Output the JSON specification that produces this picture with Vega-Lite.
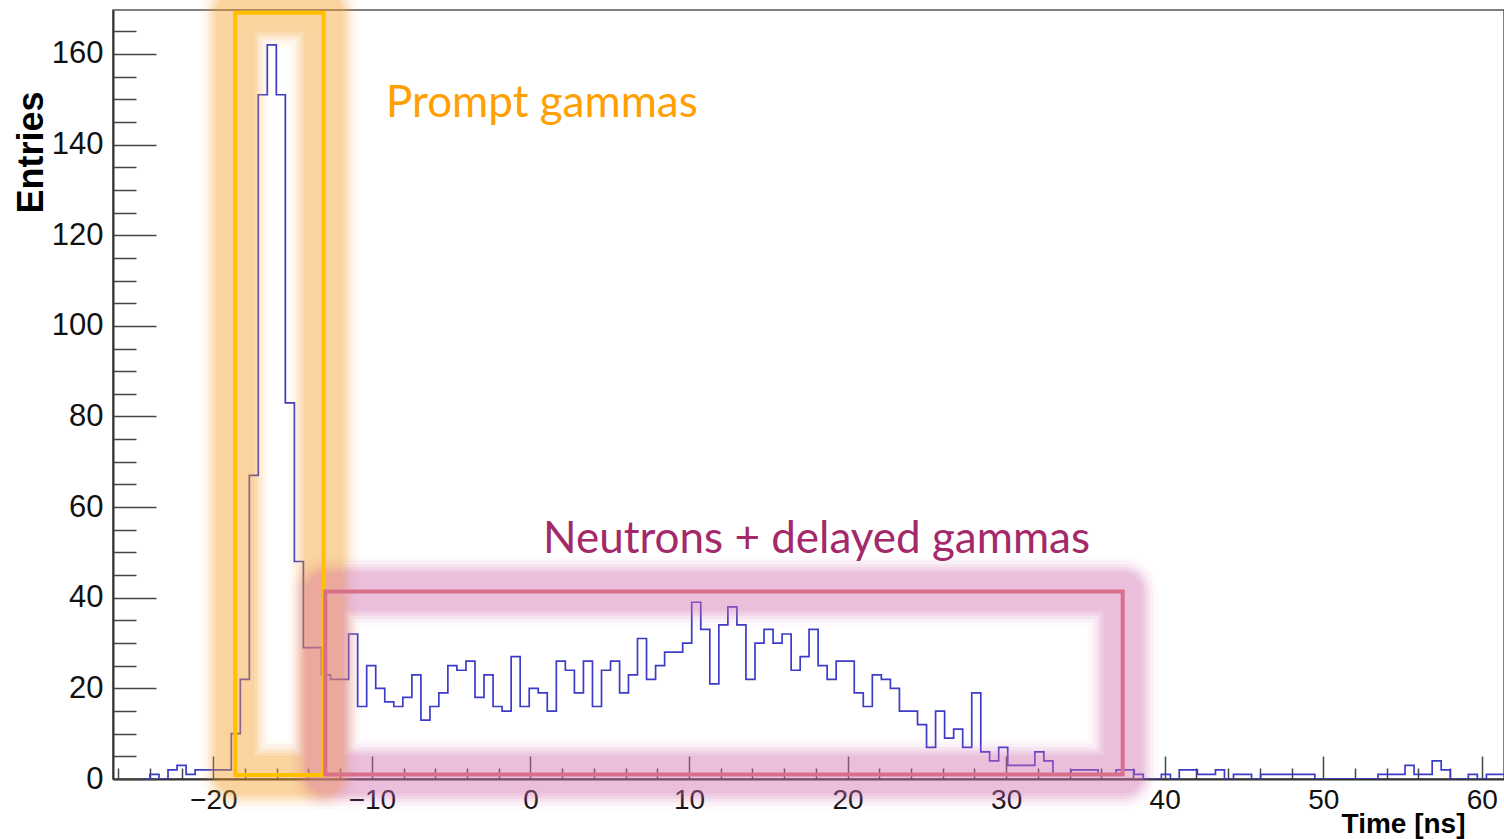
{
  "$schema": "https://vega.github.io/schema/vega-lite/v6.json",
  "autosize": "none",
  "width": 1391,
  "height": 769,
  "padding": {"left": 113, "top": 10, "right": 0, "bottom": 60},
  "background": "white",
  "config": {
    "view": {"stroke": "#555555", "strokeWidth": 1.5},
    "axis": {"grid": false, "labelFont": "Liberation Sans", "titleFont": "Liberation Sans"}
  },
  "datasets": {
    "hist": [
      {"t": -24.57, "n": 0}, {"t": -24.00, "n": 1}, {"t": -23.43, "n": 0}, {"t": -22.86, "n": 2},
      {"t": -22.29, "n": 3}, {"t": -21.72, "n": 1}, {"t": -21.15, "n": 2}, {"t": -20.58, "n": 2},
      {"t": -20.01, "n": 2}, {"t": -19.44, "n": 2}, {"t": -18.87, "n": 10}, {"t": -18.30, "n": 22},
      {"t": -17.73, "n": 67}, {"t": -17.17, "n": 151}, {"t": -16.60, "n": 162}, {"t": -16.03, "n": 151},
      {"t": -15.46, "n": 83}, {"t": -14.89, "n": 48}, {"t": -14.32, "n": 29}, {"t": -13.75, "n": 29},
      {"t": -13.18, "n": 23}, {"t": -12.61, "n": 22}, {"t": -12.04, "n": 22}, {"t": -11.47, "n": 32},
      {"t": -10.90, "n": 16}, {"t": -10.33, "n": 25}, {"t": -9.76, "n": 20}, {"t": -9.19, "n": 17},
      {"t": -8.62, "n": 16}, {"t": -8.05, "n": 18}, {"t": -7.48, "n": 23}, {"t": -6.91, "n": 13},
      {"t": -6.34, "n": 16}, {"t": -5.78, "n": 19}, {"t": -5.21, "n": 25}, {"t": -4.64, "n": 24},
      {"t": -4.07, "n": 26}, {"t": -3.50, "n": 18}, {"t": -2.93, "n": 23}, {"t": -2.36, "n": 16},
      {"t": -1.79, "n": 15}, {"t": -1.22, "n": 27}, {"t": -0.65, "n": 16}, {"t": -0.08, "n": 20},
      {"t": 0.49, "n": 19}, {"t": 1.06, "n": 15}, {"t": 1.63, "n": 26}, {"t": 2.20, "n": 24},
      {"t": 2.77, "n": 19}, {"t": 3.34, "n": 26}, {"t": 3.91, "n": 16}, {"t": 4.48, "n": 24},
      {"t": 5.05, "n": 26}, {"t": 5.62, "n": 19}, {"t": 6.18, "n": 23}, {"t": 6.75, "n": 31},
      {"t": 7.32, "n": 22}, {"t": 7.89, "n": 25}, {"t": 8.46, "n": 28}, {"t": 9.03, "n": 28},
      {"t": 9.60, "n": 30}, {"t": 10.17, "n": 39}, {"t": 10.74, "n": 33}, {"t": 11.31, "n": 21},
      {"t": 11.88, "n": 34}, {"t": 12.45, "n": 38}, {"t": 13.02, "n": 34}, {"t": 13.59, "n": 22},
      {"t": 14.16, "n": 30}, {"t": 14.73, "n": 33}, {"t": 15.30, "n": 30}, {"t": 15.87, "n": 32},
      {"t": 16.44, "n": 24}, {"t": 17.01, "n": 27}, {"t": 17.57, "n": 33}, {"t": 18.14, "n": 25},
      {"t": 18.71, "n": 22}, {"t": 19.28, "n": 26}, {"t": 19.85, "n": 26}, {"t": 20.42, "n": 19},
      {"t": 20.99, "n": 16}, {"t": 21.56, "n": 23}, {"t": 22.13, "n": 22}, {"t": 22.70, "n": 20},
      {"t": 23.27, "n": 15}, {"t": 23.84, "n": 15}, {"t": 24.41, "n": 12}, {"t": 24.98, "n": 7},
      {"t": 25.55, "n": 15}, {"t": 26.12, "n": 9}, {"t": 26.69, "n": 11}, {"t": 27.26, "n": 7},
      {"t": 27.83, "n": 19}, {"t": 28.40, "n": 6}, {"t": 28.96, "n": 4}, {"t": 29.53, "n": 7},
      {"t": 30.10, "n": 3}, {"t": 30.67, "n": 3}, {"t": 31.24, "n": 3}, {"t": 31.81, "n": 6},
      {"t": 32.38, "n": 4}, {"t": 32.95, "n": 1}, {"t": 33.52, "n": 1}, {"t": 34.09, "n": 2},
      {"t": 34.66, "n": 2}, {"t": 35.23, "n": 2}, {"t": 35.80, "n": 1}, {"t": 36.37, "n": 1},
      {"t": 36.94, "n": 2}, {"t": 37.51, "n": 2}, {"t": 38.08, "n": 1}, {"t": 38.65, "n": 0},
      {"t": 39.22, "n": 0}, {"t": 39.79, "n": 1}, {"t": 40.36, "n": 0}, {"t": 40.92, "n": 2},
      {"t": 41.49, "n": 2}, {"t": 42.06, "n": 1}, {"t": 42.63, "n": 1}, {"t": 43.20, "n": 2},
      {"t": 43.77, "n": 0}, {"t": 44.34, "n": 1}, {"t": 44.91, "n": 1}, {"t": 45.48, "n": 0},
      {"t": 46.05, "n": 1}, {"t": 46.62, "n": 1}, {"t": 47.19, "n": 1}, {"t": 47.76, "n": 1},
      {"t": 48.33, "n": 1}, {"t": 48.90, "n": 1}, {"t": 49.47, "n": 0}, {"t": 50.04, "n": 0},
      {"t": 50.61, "n": 0}, {"t": 51.18, "n": 0}, {"t": 51.74, "n": 0}, {"t": 52.31, "n": 0},
      {"t": 52.88, "n": 0}, {"t": 53.45, "n": 1}, {"t": 54.02, "n": 1}, {"t": 54.59, "n": 1},
      {"t": 55.16, "n": 3}, {"t": 55.73, "n": 1}, {"t": 56.30, "n": 1}, {"t": 56.87, "n": 4},
      {"t": 57.44, "n": 2}, {"t": 58.01, "n": 0}, {"t": 58.58, "n": 0}, {"t": 59.15, "n": 1},
      {"t": 59.72, "n": 0}, {"t": 60.29, "n": 1}, {"t": 60.86, "n": 1}, {"t": 61.43, "n": 1}
    ],
    "boxes": [
      {"region": "prompt", "t1": -18.62, "t2": -13.05, "n1": 0.9, "n2": 169.1},
      {"region": "delayed", "t1": -12.94, "t2": 37.35, "n1": 1.0, "n2": 41.4}
    ],
    "labels": [
      {"region": "prompt", "t": -9.11, "n": 146.0, "text": "Prompt gammas"},
      {"region": "delayed", "t": 0.79, "n": 49.9, "text": "Neutrons + delayed gammas"}
    ]
  },
  "resolve": {"axis": {"x": "independent", "y": "independent"}},
  "layer": [
    {
      "data": {"name": "hist"},
      "mark": {"type": "line", "opacity": 0},
      "encoding": {
        "x": {
          "field": "t", "type": "quantitative",
          "scale": {"domain": [-26.33, 61.4], "nice": false, "zero": false},
          "axis": {
            "orient": "bottom", "title": null, "labels": false, "domain": false,
            "values": [-26, -24, -22, -18, -16, -14, -12, -8, -6, -4, -2, 2, 4, 6, 8, 12, 14, 16, 18, 22, 24, 26, 28, 32, 34, 36, 38, 42, 44, 46, 48, 52, 54, 56, 58],
            "tickSize": -11, "tickWidth": 1.5, "tickColor": "#444444"
          }
        },
        "y": {
          "field": "n", "type": "quantitative",
          "scale": {"domain": [0, 169.7], "nice": false, "zero": false},
          "axis": {
            "orient": "left", "title": null, "labels": false, "domain": false,
            "values": [5, 10, 15, 25, 30, 35, 45, 50, 55, 65, 70, 75, 85, 90, 95, 105, 110, 115, 125, 130, 135, 145, 150, 155, 165],
            "tickSize": -23, "tickWidth": 1.5, "tickColor": "#444444"
          }
        }
      }
    },
    {
      "layer": [
        {
          "data": {"name": "hist"},
          "mark": {"type": "line", "interpolate": "step-after", "color": "#3C3CC8", "strokeWidth": 1.7, "clip": true},
          "encoding": {
            "x": {
              "field": "t", "type": "quantitative",
              "scale": {"domain": [-26.33, 61.4], "nice": false, "zero": false},
              "axis": {
                "orient": "bottom", "values": [-20, -10, 0, 10, 20, 30, 40, 50, 60],
                "tickSize": -23, "tickWidth": 1.5, "tickColor": "#444444",
                "domainColor": "#333333", "domainWidth": 2,
                "labelFontSize": 28, "labelColor": "#111111", "labelPadding": 30,
                "labelFlush": false, "labelOverlap": false,
                "title": "Time [ns]", "titleFontSize": 28, "titleFontWeight": "bold", "titleColor": "#000000",
                "titleX": 1352, "titleY": 53, "titleAlign": "right", "titleBaseline": "alphabetic", "titleAnchor": null
              }
            },
            "y": {
              "field": "n", "type": "quantitative",
              "scale": {"domain": [0, 169.7], "nice": false, "zero": false},
              "axis": {
                "orient": "left", "values": [0, 20, 40, 60, 80, 100, 120, 140, 160],
                "tickSize": -43, "tickWidth": 1.5, "tickColor": "#444444",
                "domainColor": "#333333", "domainWidth": 2,
                "labelFontSize": 31, "labelColor": "#111111", "labelPadding": 53,
                "labelFlush": false, "labelOverlap": false,
                "title": "Entries", "titleFontSize": 36, "titleFontWeight": "bold", "titleColor": "#000000",
                "titleAngle": 270, "titleX": -71, "titleY": 203, "titleAlign": "left", "titleBaseline": "alphabetic", "titleAnchor": null
              }
            }
          }
        },
        {
          "data": {"name": "boxes"},
          "mark": {"type": "rect", "fill": null, "strokeWidth": 70, "strokeOpacity": 0.04, "strokeJoin": "round"},
          "encoding": {
            "x": {"field": "t1", "type": "quantitative", "scale": {"domain": [-26.33, 61.4], "nice": false, "zero": false}},
            "x2": {"field": "t2"},
            "y": {"field": "n1", "type": "quantitative", "scale": {"domain": [0, 169.7], "nice": false, "zero": false}},
            "y2": {"field": "n2"},
            "stroke": {"field": "region", "type": "nominal", "scale": {"domain": ["prompt", "delayed"], "range": ["#F5A028", "#D470B6"]}, "legend": null}
          }
        },
        {
          "data": {"name": "boxes"},
          "mark": {"type": "rect", "fill": null, "strokeWidth": 62, "strokeOpacity": 0.0625, "strokeJoin": "round"},
          "encoding": {
            "x": {"field": "t1", "type": "quantitative", "scale": {"domain": [-26.33, 61.4], "nice": false, "zero": false}},
            "x2": {"field": "t2"},
            "y": {"field": "n1", "type": "quantitative", "scale": {"domain": [0, 169.7], "nice": false, "zero": false}},
            "y2": {"field": "n2"},
            "stroke": {"field": "region", "type": "nominal", "scale": {"domain": ["prompt", "delayed"], "range": ["#F5A028", "#D470B6"]}, "legend": null}
          }
        },
        {
          "data": {"name": "boxes"},
          "mark": {"type": "rect", "fill": null, "strokeWidth": 55, "strokeOpacity": 0.09, "strokeJoin": "round"},
          "encoding": {
            "x": {"field": "t1", "type": "quantitative", "scale": {"domain": [-26.33, 61.4], "nice": false, "zero": false}},
            "x2": {"field": "t2"},
            "y": {"field": "n1", "type": "quantitative", "scale": {"domain": [0, 169.7], "nice": false, "zero": false}},
            "y2": {"field": "n2"},
            "stroke": {"field": "region", "type": "nominal", "scale": {"domain": ["prompt", "delayed"], "range": ["#F5A028", "#D470B6"]}, "legend": null}
          }
        },
        {
          "data": {"name": "boxes"},
          "mark": {"type": "rect", "fill": null, "strokeWidth": 49, "strokeOpacity": 0.11, "strokeJoin": "round"},
          "encoding": {
            "x": {"field": "t1", "type": "quantitative", "scale": {"domain": [-26.33, 61.4], "nice": false, "zero": false}},
            "x2": {"field": "t2"},
            "y": {"field": "n1", "type": "quantitative", "scale": {"domain": [0, 169.7], "nice": false, "zero": false}},
            "y2": {"field": "n2"},
            "stroke": {"field": "region", "type": "nominal", "scale": {"domain": ["prompt", "delayed"], "range": ["#F5A028", "#D470B6"]}, "legend": null}
          }
        },
        {
          "data": {"name": "boxes"},
          "mark": {"type": "rect", "fill": null, "strokeWidth": 44, "strokeOpacity": 0.123, "strokeJoin": "round"},
          "encoding": {
            "x": {"field": "t1", "type": "quantitative", "scale": {"domain": [-26.33, 61.4], "nice": false, "zero": false}},
            "x2": {"field": "t2"},
            "y": {"field": "n1", "type": "quantitative", "scale": {"domain": [0, 169.7], "nice": false, "zero": false}},
            "y2": {"field": "n2"},
            "stroke": {"field": "region", "type": "nominal", "scale": {"domain": ["prompt", "delayed"], "range": ["#F5A028", "#D470B6"]}, "legend": null}
          }
        },
        {
          "data": {"name": "boxes"},
          "mark": {"type": "rect", "fill": null, "strokeWidth": 38, "strokeOpacity": 0.125, "strokeJoin": "round"},
          "encoding": {
            "x": {"field": "t1", "type": "quantitative", "scale": {"domain": [-26.33, 61.4], "nice": false, "zero": false}},
            "x2": {"field": "t2"},
            "y": {"field": "n1", "type": "quantitative", "scale": {"domain": [0, 169.7], "nice": false, "zero": false}},
            "y2": {"field": "n2"},
            "stroke": {"field": "region", "type": "nominal", "scale": {"domain": ["prompt", "delayed"], "range": ["#F5A028", "#D470B6"]}, "legend": null}
          }
        },
        {
          "data": {"name": "boxes"},
          "mark": {"type": "rect", "filled": false, "strokeWidth": 4, "opacity": 1},
          "encoding": {
            "x": {"field": "t1", "type": "quantitative", "scale": {"domain": [-26.33, 61.4], "nice": false, "zero": false}},
            "x2": {"field": "t2"},
            "y": {"field": "n1", "type": "quantitative", "scale": {"domain": [0, 169.7], "nice": false, "zero": false}},
            "y2": {"field": "n2"},
            "color": {"field": "region", "type": "nominal", "scale": {"domain": ["prompt", "delayed"], "range": ["#FFC000", "#D9708A"]}, "legend": null}
          }
        },
        {
          "data": {"name": "labels"},
          "mark": {"type": "text", "font": "Lato", "fontSize": 44, "align": "left", "baseline": "alphabetic"},
          "encoding": {
            "x": {"field": "t", "type": "quantitative", "scale": {"domain": [-26.33, 61.4], "nice": false, "zero": false}},
            "y": {"field": "n", "type": "quantitative", "scale": {"domain": [0, 169.7], "nice": false, "zero": false}},
            "text": {"field": "text"},
            "fill": {"field": "region", "type": "nominal", "scale": {"domain": ["prompt", "delayed"], "range": ["#FFA000", "#A3296A"]}, "legend": null}
          }
        }
      ]
    }
  ]
}
